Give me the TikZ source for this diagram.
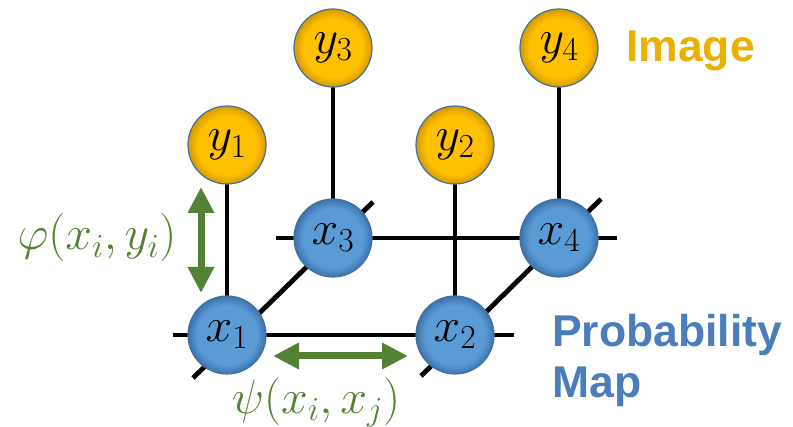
\documentclass[tikz,border=0pt]{standalone}
\usepackage{fix-cm}
\usepackage{fontspec}
\newfontfamily\lsans{Liberation Sans}
\usetikzlibrary{arrows.meta,backgrounds}

\definecolor{nodeblue}{HTML}{5B9BD5}
\definecolor{nodebluedark}{HTML}{3C73AE}
\definecolor{nodeorange}{HTML}{FFC000}
\definecolor{nodeorangedark}{HTML}{D69A00}
\definecolor{rim}{HTML}{41719C}
\definecolor{arrowgreen}{HTML}{548235}
\definecolor{textblue}{HTML}{4A7EBB}
\definecolor{textorange}{HTML}{EBB000}

\pgfdeclareradialshading{xball}{\pgfpoint{0bp}{0bp}}{color(0bp)=(nodeblue); color(19bp)=(nodeblue); color(25bp)=(nodebluedark); color(50bp)=(nodebluedark)}
\pgfdeclareradialshading{yball}{\pgfpoint{0bp}{0bp}}{color(0bp)=(nodeorange); color(19bp)=(nodeorange); color(25bp)=(nodeorangedark); color(50bp)=(nodeorangedark)}

\tikzset{
  var/.style={circle, minimum size=78pt, inner sep=0pt, draw=rim, line width=1.2pt,
    font=\fontsize{48}{56}\selectfont},
  xnode/.style={var, shading=xball},
  ynode/.style={var, shading=yball},
  gridline/.style={line width=4.8pt, black},
  pot/.style={arrowgreen, line width=7pt,
    {Triangle[width=25pt,length=26pt]}-{Triangle[width=25pt,length=26pt]}},
  potlabel/.style={text=arrowgreen, inner sep=0pt, font=\fontsize{48}{56}\selectfont},
  title/.style={anchor=base west, inner sep=0pt, font=\lsans\bfseries\fontsize{44.5}{50}\selectfont}
}

\begin{document}
\begin{tikzpicture}[x=1pt,y=-1pt]
\useasboundingbox (0,0) rectangle (793,427);

% nodes
\node[ynode] (y1) at (227,145) {$y_1$};
\node[ynode] (y2) at (455,145) {$y_2$};
\node[ynode] (y3) at (333,48) {$y_3$};
\node[ynode] (y4) at (559,48) {$y_4$};
\node[xnode] (x1) at (227,335) {$x_1$};
\node[xnode] (x2) at (455,335) {$x_2$};
\node[xnode] (x3) at (333,238) {$x_3$};
\node[xnode] (x4) at (559,238) {$x_4$};

% free ends
\coordinate (b1) at (173,335);
\coordinate (b2) at (514,335);
\coordinate (t1) at (276,238);
\coordinate (t2) at (617,238);
\coordinate (d1a) at (193,378);
\coordinate (d1b) at (373,202);
\coordinate (d2a) at (421,376);
\coordinate (d2b) at (601,199);

\begin{pgfonlayer}{background}
\draw[gridline] (b1) -- (x1.center) -- (x2.center) -- (b2);
\draw[gridline] (t1) -- (x3.center) -- (x4.center) -- (t2);
\draw[gridline] (d1a) -- (d1b);
\draw[gridline] (d2a) -- (d2b);
\draw[gridline] (y1.center) -- (x1.center);
\draw[gridline] (y2.center) -- (x2.center);
\draw[gridline] (y3.center) -- (x3.center);
\draw[gridline] (y4.center) -- (x4.center);
\end{pgfonlayer}

% potentials
\coordinate (a1) at (201,187);
\coordinate (a2) at (201,293);
\coordinate (a3) at (273,356);
\coordinate (a4) at (408,356);
\draw[pot] (a1) -- (a2);
\draw[pot] (a3) -- (a4);

\node[potlabel] (phi) at (97,238) {$\varphi(x_i,y_i)$};
\node[potlabel] (psi) at (316,402) {$\psi(x_i,x_j)$};

\node[title, text=textorange] (img) at (626,62) {Image};
\node[title, text=textblue] (prob) at (552,347) {Probability};
\node[title, text=textblue] (map) at (552,398) {Map};
\end{tikzpicture}
\end{document}
